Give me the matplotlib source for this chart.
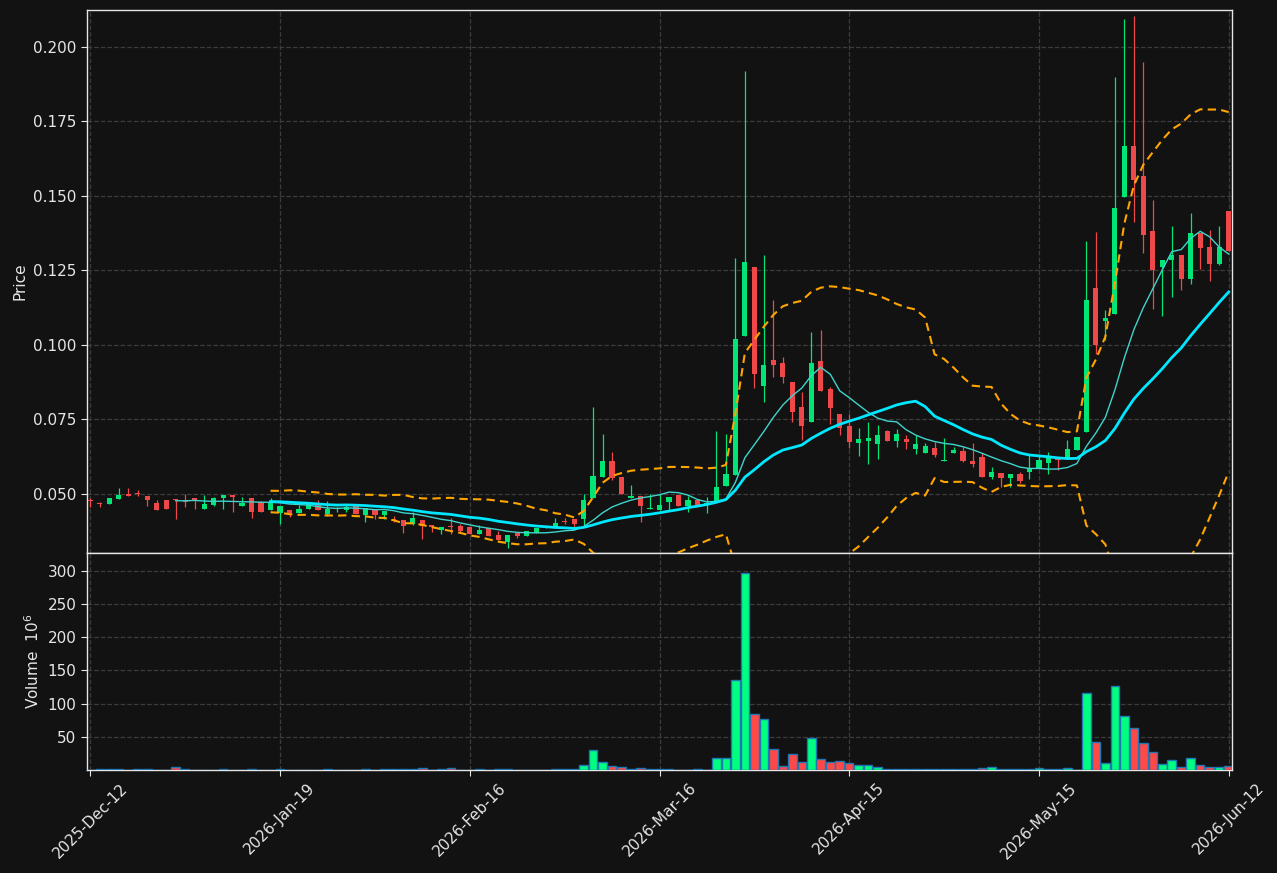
import numpy as np
import pandas as pd
import matplotlib
matplotlib.use("Agg")
import matplotlib.pyplot as plt

# ---- data ----
opens = [0.0480, 0.0470, 0.0465, 0.0483, 0.0500, 0.0504, 0.0493, 0.0470, 0.0480, 0.0481,
         0.0480, 0.0487, 0.0450, 0.0463, 0.0487, 0.0497, 0.0460, 0.0487, 0.0474, 0.0446,
         0.0436, 0.0446, 0.0436, 0.0450, 0.0463, 0.0433, 0.0450, 0.0446, 0.0463, 0.0430,
         0.0450, 0.0430, 0.0416, 0.0413, 0.0399, 0.0413, 0.0396, 0.0379, 0.0393, 0.0393,
         0.0389, 0.0366, 0.0386, 0.0362, 0.0339, 0.0369, 0.0359, 0.0369, 0.0386, 0.0386,
         0.0409, 0.0416, 0.0416, 0.0487, 0.0557, 0.0611, 0.0557, 0.0487, 0.0493, 0.0450,
         0.0446, 0.0473, 0.0497, 0.0460, 0.0480, 0.0468, 0.0473, 0.0527, 0.0564, 0.1030,
         0.1262, 0.0862, 0.0950, 0.0940, 0.0876, 0.0792, 0.0742, 0.0946, 0.0852, 0.0768,
         0.0728, 0.0671, 0.0678, 0.0668, 0.0711, 0.0678, 0.0685, 0.0651, 0.0638, 0.0654,
         0.0611, 0.0638, 0.0644, 0.0611, 0.0624, 0.0557, 0.0570, 0.0554, 0.0567, 0.0574,
         0.0587, 0.0604, 0.0622, 0.0617, 0.0648, 0.0709, 0.1191, 0.1079, 0.1105, 0.1498,
         0.1668, 0.1567, 0.1383, 0.1263, 0.1285, 0.1302, 0.1222, 0.1376, 0.1329, 0.1273,
         0.1448]
highs = [0.0487, 0.0473, 0.0487, 0.0520, 0.0520, 0.0513, 0.0493, 0.0480, 0.0480, 0.0483,
         0.0500, 0.0487, 0.0497, 0.0490, 0.0497, 0.0497, 0.0490, 0.0487, 0.0477, 0.0487,
         0.0460, 0.0446, 0.0463, 0.0466, 0.0480, 0.0477, 0.0457, 0.0463, 0.0463, 0.0453,
         0.0450, 0.0443, 0.0427, 0.0413, 0.0440, 0.0413, 0.0396, 0.0390, 0.0419, 0.0399,
         0.0389, 0.0396, 0.0386, 0.0376, 0.0362, 0.0369, 0.0376, 0.0386, 0.0389, 0.0419,
         0.0419, 0.0416, 0.0500, 0.0792, 0.0701, 0.0641, 0.0557, 0.0530, 0.0493, 0.0500,
         0.0500, 0.0490, 0.0497, 0.0493, 0.0480, 0.0490, 0.0711, 0.0701, 0.1292, 0.1920,
         0.1262, 0.1302, 0.1151, 0.0960, 0.0876, 0.0842, 0.1044, 0.1050, 0.0859, 0.0768,
         0.0768, 0.0721, 0.0742, 0.0732, 0.0715, 0.0718, 0.0698, 0.0698, 0.0671, 0.0675,
         0.0688, 0.0658, 0.0658, 0.0671, 0.0638, 0.0591, 0.0570, 0.0567, 0.0574, 0.0631,
         0.0631, 0.0642, 0.0622, 0.0681, 0.0691, 0.1349, 0.1379, 0.1119, 0.1899, 0.2094,
         0.2104, 0.1950, 0.1487, 0.1285, 0.1399, 0.1302, 0.1443, 0.1376, 0.1386, 0.1399,
         0.1448]
lows = [0.0456, 0.0456, 0.0465, 0.0483, 0.0493, 0.0493, 0.0460, 0.0446, 0.0450, 0.0416,
        0.0456, 0.0450, 0.0450, 0.0460, 0.0450, 0.0440, 0.0460, 0.0419, 0.0440, 0.0446,
        0.0399, 0.0423, 0.0436, 0.0450, 0.0446, 0.0426, 0.0440, 0.0440, 0.0433, 0.0406,
        0.0416, 0.0416, 0.0407, 0.0369, 0.0396, 0.0349, 0.0372, 0.0366, 0.0366, 0.0372,
        0.0366, 0.0366, 0.0359, 0.0346, 0.0319, 0.0352, 0.0359, 0.0369, 0.0386, 0.0386,
        0.0399, 0.0389, 0.0389, 0.0487, 0.0557, 0.0547, 0.0500, 0.0487, 0.0406, 0.0450,
        0.0446, 0.0446, 0.0460, 0.0440, 0.0463, 0.0436, 0.0473, 0.0527, 0.0564, 0.1030,
        0.0856, 0.0809, 0.0893, 0.0873, 0.0742, 0.0681, 0.0742, 0.0846, 0.0735, 0.0698,
        0.0654, 0.0628, 0.0601, 0.0617, 0.0678, 0.0658, 0.0651, 0.0634, 0.0638, 0.0624,
        0.0611, 0.0638, 0.0607, 0.0591, 0.0557, 0.0550, 0.0523, 0.0523, 0.0537, 0.0550,
        0.0587, 0.0567, 0.0581, 0.0617, 0.0648, 0.0709, 0.0970, 0.1017, 0.1105, 0.1498,
        0.1414, 0.1310, 0.1121, 0.1098, 0.1161, 0.1183, 0.1203, 0.1256, 0.1215, 0.1267,
        0.1317]
closes = [0.0477, 0.0466, 0.0487, 0.0497, 0.0493, 0.0499, 0.0480, 0.0446, 0.0450, 0.0479,
          0.0474, 0.0480, 0.0466, 0.0487, 0.0497, 0.0491, 0.0470, 0.0440, 0.0441, 0.0474,
          0.0460, 0.0436, 0.0450, 0.0466, 0.0446, 0.0450, 0.0453, 0.0456, 0.0433, 0.0453,
          0.0430, 0.0443, 0.0409, 0.0393, 0.0419, 0.0393, 0.0389, 0.0389, 0.0388, 0.0376,
          0.0366, 0.0379, 0.0359, 0.0346, 0.0362, 0.0359, 0.0376, 0.0386, 0.0389, 0.0403,
          0.0406, 0.0399, 0.0480, 0.0560, 0.0611, 0.0554, 0.0500, 0.0493, 0.0460, 0.0453,
          0.0463, 0.0490, 0.0460, 0.0480, 0.0463, 0.0471, 0.0523, 0.0567, 0.1020, 0.1279,
          0.0903, 0.0933, 0.0933, 0.0893, 0.0775, 0.0728, 0.0940, 0.0846, 0.0789, 0.0721,
          0.0675, 0.0685, 0.0688, 0.0698, 0.0678, 0.0701, 0.0675, 0.0668, 0.0661, 0.0631,
          0.0614, 0.0648, 0.0611, 0.0601, 0.0557, 0.0574, 0.0554, 0.0567, 0.0544, 0.0587,
          0.0614, 0.0626, 0.0615, 0.0651, 0.0691, 0.1151, 0.1001, 0.1091, 0.1460, 0.1668,
          0.1555, 0.1368, 0.1250, 0.1285, 0.1302, 0.1223, 0.1376, 0.1327, 0.1273, 0.1329,
          0.1317]
volumes = [0.0, 1.0, 1.0, 1.0, 0.0, 1.0, 1.0, 0.0, 0.0, 4.8,
           1.0, 0.0, 0.0, 0.0, 1.0, 0.0, 0.0, 1.0, 0.0, 0.0,
           1.0, 0.0, 0.0, 0.0, 0.0, 1.0, 0.0, 0.0, 0.0, 1.0,
           0.0, 1.0, 1.0, 1.0, 1.0, 3.3, 0.0, 1.0, 3.3, 0.0,
           0.0, 1.0, 0.0, 1.0, 1.0, 0.0, 0.0, 0.0, 0.0, 1.0,
           1.0, 1.0, 7.8, 30.0, 11.9, 6.3, 4.8, 1.0, 3.3, 1.0,
           1.0, 1.0, 0.0, 0.0, 1.0, 0.0, 17.9, 17.9, 135.4, 296.5,
           84.2, 76.7, 31.5, 5.8, 23.9, 11.9, 48.0, 16.4, 11.9, 13.4,
           10.4, 7.4, 7.4, 4.4, 1.0, 1.0, 1.0, 1.0, 1.0, 1.0,
           1.0, 1.0, 1.0, 1.0, 2.9, 4.4, 1.0, 1.0, 1.0, 1.0,
           2.9, 1.0, 1.0, 2.9, 0.0, 115.8, 42.0, 10.4, 126.3, 81.2,
           63.1, 40.5, 27.0, 8.9, 14.9, 4.4, 17.9, 7.4, 4.4, 4.4,
           5.9]
tick_labels = ["2025-Dec-12", "2026-Jan-19", "2026-Feb-16", "2026-Mar-16",
               "2026-Apr-15", "2026-May-15", "2026-Jun-12"]
mav_fast, mav_slow, bb_k = 10, 20, 2

# ---- styling ----
BG = "#121212"
UP, DOWN = "#00e676", "#f04848"
VUP, VDOWN, VEDGE = "#00ff80", "#ff4848", "#1f77b4"
TXT = "#e6e6e6"
GRID = "#3c3c3c"

o = np.array(opens); h = np.array(highs); l = np.array(lows); c = np.array(closes)
v = np.array(volumes)
n = len(c)
x = np.arange(n)
up = c >= o

fig = plt.figure(figsize=(12.77, 8.73), dpi=100, facecolor=BG)
L, R = 87 / 1277, 1232 / 1277
ax = fig.add_axes([L, 1 - 553 / 873, R - L, (553 - 10) / 873])
axv = fig.add_axes([L, 1 - 770 / 873, R - L, (770 - 553) / 873], sharex=ax)

for a in (ax, axv):
    a.set_facecolor(BG)
    for s in a.spines.values():
        s.set_color(TXT)
        s.set_linewidth(1.0)
    a.tick_params(colors=TXT, labelsize=11, length=4)
    a.grid(True, color=GRID, linestyle="--", linewidth=0.9)
    a.set_axisbelow(True)

# candles
ax.vlines(x[up], l[up], h[up], color=UP, linewidth=0.9, zorder=2)
ax.vlines(x[~up], l[~up], h[~up], color=DOWN, linewidth=0.9, zorder=2)
body_lo = np.minimum(o, c)
body_h = np.maximum(np.abs(c - o), 0.0003)
ax.bar(x[up], body_h[up], bottom=body_lo[up], width=0.55, color=UP, linewidth=0, zorder=3)
ax.bar(x[~up], body_h[~up], bottom=body_lo[~up], width=0.55, color=DOWN, linewidth=0, zorder=3)

# moving averages & bollinger bands
cs = pd.Series(c)
ma_f = cs.rolling(mav_fast).mean()
ma_s = cs.rolling(mav_slow).mean()
sd = cs.rolling(mav_slow).std(ddof=0)
ax.plot(x, ma_f, color="#3fd4cc", linewidth=1.0, zorder=4)
ax.plot(x, ma_s, color="#00e8ff", linewidth=2.0, zorder=4)
ax.plot(x, ma_s + bb_k * sd, color="#ffa500", linewidth=1.5, linestyle=(0, (4, 2.5)), zorder=4)
ax.plot(x, ma_s - bb_k * sd, color="#ffa500", linewidth=1.5, linestyle=(0, (4, 2.5)), zorder=4)

ax.set_ylim(0.0302, 0.2124)
ax.set_yticks(np.arange(0.050, 0.2001, 0.025))
ax.yaxis.set_major_formatter(matplotlib.ticker.FormatStrFormatter("%.3f"))
ax.set_ylabel("Price", color=TXT, fontsize=11)
ax.tick_params(axis="x", labelbottom=False)

# volume
vcol = [VUP if u else VDOWN for u in up]
axv.bar(x, v, width=0.9, color=vcol, edgecolor=VEDGE, linewidth=1.0, zorder=3)
axv.set_ylim(0, 327)
axv.set_yticks([50, 100, 150, 200, 250, 300])
axv.set_ylabel("Volume  $10^{6}$", color=TXT, fontsize=11)

tick_pos = np.arange(0, n, 20)
axv.set_xticks(tick_pos)
axv.set_xticklabels(tick_labels, rotation=45, ha="center")
axv.set_xlim(-0.35, n - 1 + 0.35)

fig.savefig("out.png", dpi=100, facecolor=BG)
